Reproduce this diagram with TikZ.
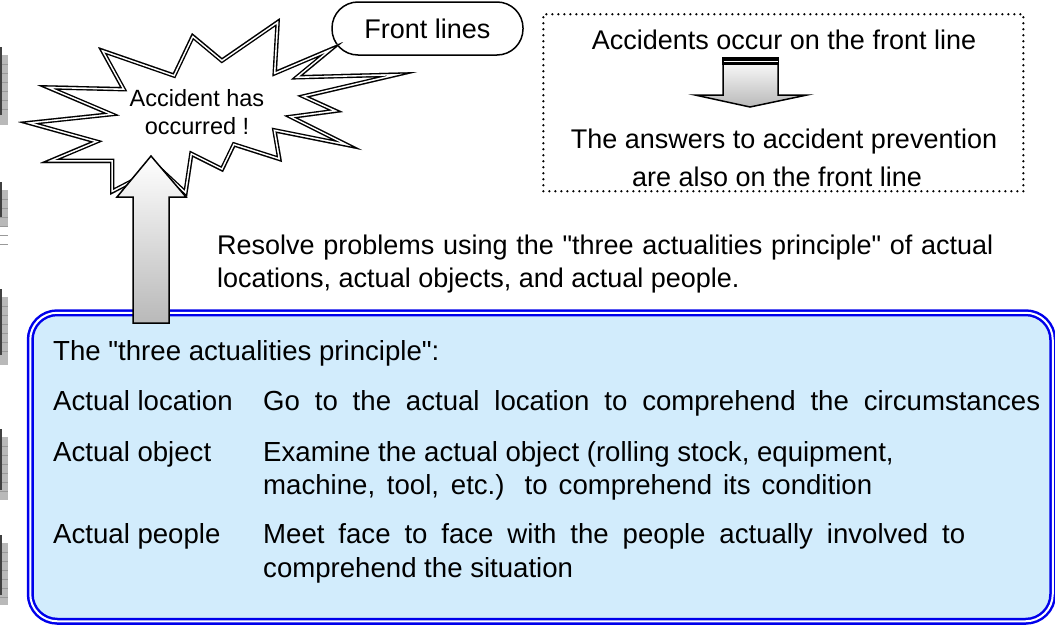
\documentclass[tikz,border=0pt]{standalone}
\usepackage{fontspec}
\setmainfont{Liberation Sans}
\usetikzlibrary{positioning}
\definecolor{frameblue}{RGB}{0,0,235}
\definecolor{paleblue}{RGB}{210,236,252}
\definecolor{whiteblue}{RGB}{246,251,255}
\newcommand{\qq}{\XeTeXglyph\XeTeXcharglyph"22\relax}

\begin{document}
\begin{tikzpicture}[x=1pt, y=-1pt,
  txt/.style = {font=\fontsize{27}{33}\selectfont, inner sep=0pt},
  boxtxt/.style = {font=\fontsize{27.6}{33}\selectfont, inner sep=0pt, anchor=base west},
  small/.style = {font=\fontsize{23.5}{28}\selectfont, inner sep=0pt},
  blockarrow/.style = {draw=black, line width=1.5pt, line join=miter, top color=white, bottom color=gray!55},
  burstpath/.style = {insert path={(18,122) -- (103,113) -- (37,85) -- (120,87) -- (98,47) -- (173,73) -- (192,33) -- (222,58) -- (280,18) -- (277,70) -- (343,42) -- (303,75) -- (417,72) -- (310,97) -- (343,112) -- (298,118) -- (362,150) -- (277,133) -- (282,162) -- (235,147) -- (223,172) -- (193,157) -- (187,197) -- (158,170) -- (110,195) -- (110,163) -- (40,163) -- (90,142) -- cycle}}]
\useasboundingbox (0,0) rectangle (1055,624);

% page edge
\foreach \ya/\yb in {55/125, 190/227, 297/365, 437/500, 543/605} {
  \fill[gray!55] (0,\ya) rectangle (8,\yb);
  \foreach \k in {9,18,...,60}
    \draw[gray!80, line width=0.5pt] (0,\ya+\k) -- (8,\ya+\k);
  \draw[black!75, line width=1.5pt] (0.75,\ya-8) -- (0.75,\yb-10);
}

\node[txt, draw, line width=1.5pt, rounded corners=26pt, fill=white, minimum width=191pt, minimum height=53pt] (front) at (427.5,28.5) {Front lines};

% starburst with double outline
\fill[white, burstpath];
\begin{scope}
\clip[burstpath];
\draw[black, line width=8.6pt, line join=miter, burstpath];
\draw[white, line width=5.8pt, line join=miter, burstpath];
\draw[black, line width=2.6pt, line join=miter, burstpath];
\end{scope}
\node[small, align=center] (accident) at (197,112.5) {Accident has\\occurred !};

\node[draw, line width=2.5pt, dash pattern=on 0pt off 6pt, line cap=round, minimum width=480pt, minimum height=177pt, anchor=north west] (frontbox) at (542,13) {};
\node[txt, anchor=base] (occur) at (784,49) {Accidents occur on the front line};
\node[txt, anchor=base] (answer) at (784,148) {The answers to accident prevention};
\node[txt, anchor=base] (answer2) at (777,186) {are also on the front line};
\draw[blockarrow] (723,58) -- (778,58) -- (778,95) -- (807,95) -- (750,107) -- (695,95) -- (723,95) -- cycle;
\fill[black] (722.25,57.25) rectangle (778.75,65);
\draw[white, line width=0.8pt] (723.5,61.5) -- (777.5,61.5);

\node[txt, anchor=base west] (resolve) at (217,254) {\makebox[776pt][s]{Resolve problems using the \qq three actualities principle\qq{} of actual}};
\node[txt, anchor=base west] (resolve2) at (217,287) {locations, actual objects, and actual people.};

\node[draw=frameblue, double=white, line width=2.5pt, double distance=2pt, rounded corners=27pt, left color=paleblue, middle color=whiteblue, right color=paleblue, minimum width=1022.5pt, minimum height=308.5pt, anchor=north west, inner sep=0pt] (principle) at (29,311.5) {};

\draw[blockarrow] (133,323) -- (133,197) -- (117,197) -- (151,156) -- (186,197) -- (169,197) -- (169,323) -- cycle;

\node[boxtxt] (title) at (53,360) {The \qq three actualities principle\qq:};
\node[boxtxt] (loc) at (53,410) {Actual location};
\node[boxtxt] (locdesc) at (263,410) {\makebox[777pt][s]{Go to the actual location to comprehend the circumstances}};
\node[boxtxt] (obj) at (53,461) {Actual object};
\node[boxtxt] (objdesc) at (263,461) {Examine the actual object (rolling stock, equipment,};
\node[boxtxt] (objdesc2) at (263,494) {\makebox[609pt][s]{machine, tool, etc.) to comprehend its condition}};
\node[boxtxt] (ppl) at (53,543) {Actual people};
\node[boxtxt] (ppldesc) at (263,543) {\makebox[702pt][s]{Meet face to face with the people actually involved to}};
\node[boxtxt] (ppldesc2) at (263,577) {comprehend the situation};
\end{tikzpicture}
\end{document}
